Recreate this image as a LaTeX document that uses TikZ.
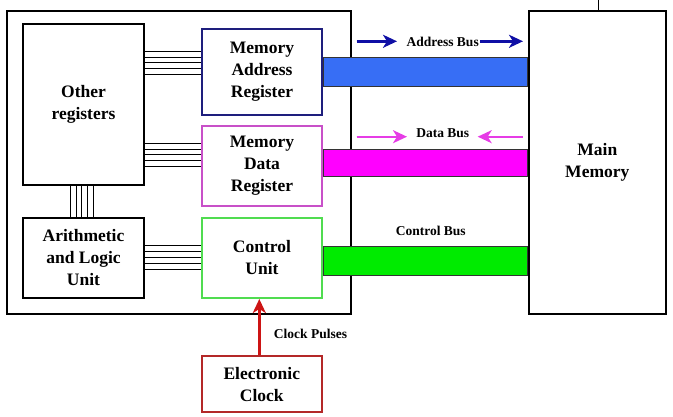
\documentclass[tikz,border=0pt]{standalone}
\usepackage{fontspec}
\setmainfont{Liberation Serif}
\usetikzlibrary{arrows.meta}
\definecolor{marcol}{RGB}{30,30,125}
\definecolor{mdrcol}{RGB}{200,80,200}
\definecolor{cucol}{RGB}{80,220,80}
\definecolor{clkcol}{RGB}{180,40,40}
\definecolor{clkarrow}{RGB}{205,20,20}
\definecolor{addrarrow}{RGB}{15,15,165}
\definecolor{dataarrow}{RGB}{230,60,230}
\definecolor{addrfill}{RGB}{55,110,245}
\definecolor{datafill}{RGB}{255,0,255}
\definecolor{ctrlfill}{RGB}{0,235,0}
\tikzset{
  blk/.style={draw, line width=2pt, inner sep=0pt, align=center,
    font=\fontsize{17.5}{22}\selectfont\bfseries},
  lbl/.style={inner sep=1pt, font=\fontsize{13.5}{16}\selectfont\bfseries},
  wire/.style={line width=0.8pt},
  busbar/.style={draw=black!80, line width=0.8pt},
  busarrow/.style={line width=2.6pt, -{Stealth[length=14pt,width=13pt,inset=4pt]}},
}
\begin{document}
\begin{tikzpicture}[x=1pt,y=-1pt]
\useasboundingbox (0,0) rectangle (673,417);
% boxes
\node[blk, minimum width=344, minimum height=303] (cpu) at (179,162.5) {};
\node[blk, minimum width=137.3, minimum height=303] (mm) at (597.3,162.5) {Main\\Memory};
\node[blk, minimum width=121, minimum height=161] (or) at (83.5,104.5) {Other\\registers};
\node[blk, minimum width=121, minimum height=80] (alu) at (83.5,258) {Arithmetic\\and Logic\\Unit};
\node[blk, draw=marcol, minimum width=120, minimum height=86] (mar) at (262,72) {Memory\\Address\\Register};
\node[blk, draw=mdrcol, minimum width=120, minimum height=80] (mdr) at (262,166) {Memory\\Data\\Register};
\node[blk, draw=cucol, minimum width=120, minimum height=80] (cu) at (262,258) {Control\\Unit};
\node[blk, draw=clkcol, minimum width=120.3, minimum height=56.3] (clk) at (261.8,384.2) {Electronic\\Clock};
% wires
\foreach \y in {51,57,62.7,68.3,74} \draw[wire] (or.east |- 0,\y) -- (mar.west |- 0,\y);
\foreach \y in {143.3,149,154.8,160.5,166.2} \draw[wire] (or.east |- 0,\y) -- (mdr.west |- 0,\y);
\foreach \y in {245.7,251.6,257.5,263.4,269.3} \draw[wire] (alu.east |- 0,\y) -- (cu.west |- 0,\y);
\foreach \x in {70.3,76,81.7,87.4,93} \draw[wire] (or.south -| \x,0) -- (alu.north -| \x,0);
% buses
\filldraw[busbar, fill=addrfill] (mar.east |- 0,57.3) rectangle (mm.west |- 0,86);
\filldraw[busbar, fill=datafill] (mdr.east |- 0,149.7) rectangle (mm.west |- 0,176.7);
\filldraw[busbar, fill=ctrlfill] (cu.east |- 0,246.7) rectangle (mm.west |- 0,275);
% labels and arrows
\node[lbl] (ab) at (442.7,42) {Address Bus};
\coordinate (ab1) at (356.7,41.3);
\coordinate (ab2) at (397,41.3);
\coordinate (ab3) at (523,41.3);
\draw[busarrow, draw=addrarrow, fill=addrarrow] (ab1) -- (ab2);
\draw[busarrow, draw=addrarrow, fill=addrarrow] (ab.east |- ab1) -- (ab3);
\node[lbl] (db) at (442.7,133.5) {Data Bus};
\coordinate (db1) at (356.7,136.7);
\coordinate (db2) at (407,136.7);
\coordinate (db3) at (522.7,136.7);
\coordinate (db4) at (477.7,136.7);
\draw[busarrow, line width=2.2pt, draw=dataarrow, fill=dataarrow] (db1) -- (db2);
\draw[busarrow, line width=2.2pt, draw=dataarrow, fill=dataarrow] (db3) -- (db4);
\node[lbl] (cb) at (430.7,230.7) {Control Bus};
\node[lbl] (cp) at (310.5,334.3) {Clock Pulses};
\draw[busarrow, line width=3pt, draw=clkarrow, fill=clkarrow] (clk.north -| 259.3,0) -- (cu.south -| 259.3,0);
% small tick at the top of main memory
\coordinate (tk) at (598,0);
\draw[line width=1pt] (tk) -- (mm.north -| tk);
\end{tikzpicture}
\end{document}
